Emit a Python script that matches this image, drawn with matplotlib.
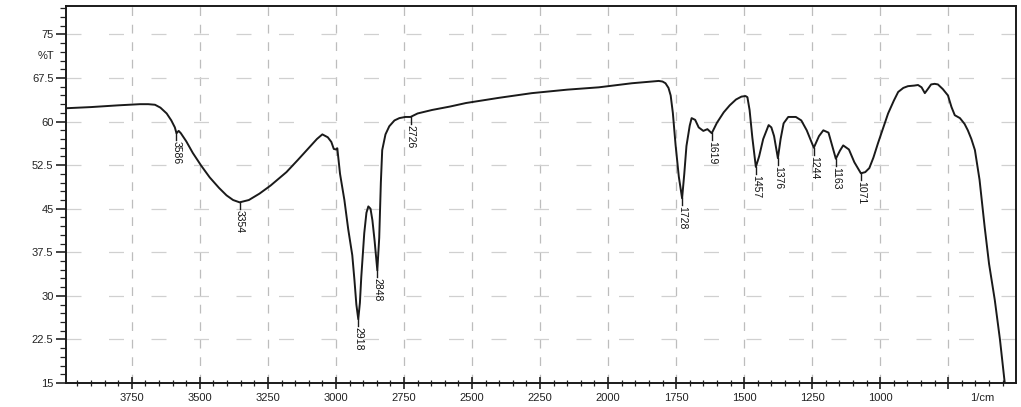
import numpy as np
import matplotlib.pyplot as plt
from matplotlib.ticker import MultipleLocator

# FTIR spectrum (wavenumber in 1/cm, transmittance in %T)
wavenumber = [3992, 3900, 3800, 3720, 3690, 3665, 3645, 3622, 3605, 3592, 3586, 3578,
              3570, 3550, 3526, 3495, 3464, 3430, 3402, 3378, 3354, 3320, 3281,
              3240, 3182, 3140, 3097, 3070, 3050, 3030, 3017, 3008, 3000, 2995,
              2985, 2969, 2955, 2948, 2940, 2932, 2925, 2918, 2912, 2907, 2896,
              2888, 2881, 2873, 2866, 2858, 2848, 2841, 2835, 2830, 2818, 2804,
              2785, 2767, 2745, 2726, 2700, 2647, 2580, 2522, 2400, 2280, 2150,
              2034, 1913, 1840, 1814, 1800, 1789, 1778, 1770, 1762, 1752, 1740,
              1728, 1720, 1712, 1700, 1693, 1680, 1667, 1650, 1635, 1619, 1600,
              1575, 1553, 1530, 1510, 1495, 1488, 1480, 1470, 1457, 1445, 1430,
              1410, 1400, 1390, 1376, 1366, 1355, 1338, 1310, 1290, 1270, 1244,
              1225, 1209, 1190, 1163, 1148, 1136, 1115, 1095, 1071, 1055, 1040,
              1025, 1008, 990, 971, 950, 934, 915, 898, 875, 861, 848, 836, 825,
              813, 800, 788, 770, 751, 738, 726, 707, 690, 678, 665, 652, 635,
              616, 600, 579, 560, 540]
transmittance = [62.3, 62.5, 62.8, 63.0, 63.0, 62.9, 62.4, 61.4, 60.2, 59.0, 58.0, 58.4,
                 58.0, 56.6, 54.6, 52.4, 50.4, 48.6, 47.3, 46.5, 46.1, 46.5, 47.6,
                 49.0, 51.3, 53.4, 55.6, 57.0, 57.8, 57.3, 56.5, 55.3, 55.2, 55.4,
                 51.0, 46.5, 41.5, 39.4, 37.0, 32.7, 28.5, 26.0, 28.8, 33.2, 40.8,
                 44.3, 45.4, 45.0, 43.0, 39.5, 34.4, 40.0, 49.5, 55.1, 57.8, 59.2,
                 60.2, 60.6, 60.8, 60.8, 61.4, 62.0, 62.6, 63.2, 64.1, 64.9, 65.5,
                 65.9, 66.6, 66.9, 67.0, 66.9, 66.6, 65.8, 64.5, 61.5, 56.0, 50.5,
                 46.8, 51.0, 55.8, 59.3, 60.6, 60.3, 59.0, 58.4, 58.7, 58.0, 59.8,
                 61.6, 62.8, 63.8, 64.3, 64.4, 64.2, 62.0, 57.3, 52.2, 54.0, 57.0,
                 59.4, 59.0, 57.5, 53.7, 57.0, 59.7, 60.8, 60.8, 60.2, 58.5, 55.5,
                 57.5, 58.5, 58.1, 53.6, 55.0, 55.9, 55.2, 53.0, 51.1, 51.3, 52.0,
                 53.8, 56.3, 58.8, 61.4, 63.6, 65.1, 65.8, 66.1, 66.2, 66.3, 65.9,
                 64.9, 65.6, 66.4, 66.5, 66.4, 65.6, 64.5, 62.5, 61.1, 60.6, 59.6,
                 58.5, 57.0, 55.1, 50.0, 41.8, 35.5, 29.3, 22.5, 14.0]

peak_wn = [3586, 3354, 2918, 2848, 2726, 1728, 1619, 1457, 1376, 1244, 1163, 1071]
peak_T = [58.0, 46.1, 26.0, 34.4, 60.8, 46.8, 58.0, 52.2, 53.7, 55.5, 53.6, 51.1]

x_major = [3750, 3500, 3250, 3000, 2750, 2500, 2250, 2000, 1750, 1500, 1250, 1000, 750]
x_labels = ['3750', '3500', '3250', '3000', '2750', '2500', '2250', '2000', '1750',
            '1500', '1250', '1000', '']
y_major = [15, 22.5, 30, 37.5, 45, 52.5, 60, 67.5, 75]
y_labels = ['15', '22.5', '30', '37.5', '45', '52.5', '60', '67.5', '75']

plt.rcParams['font.family'] = ['Liberation Sans', 'DejaVu Sans']

fig = plt.figure(figsize=(10.21, 4.07), dpi=100)
ax = fig.add_axes([66 / 1021, 24 / 407, 950 / 1021, 377 / 407])

# dashed grid like the printed chart paper
for xv in x_major:
    ax.axvline(xv, color='#bdbdbd', lw=0.9, dashes=(7, 7), zorder=0)
for yv in y_major[1:]:
    ax.axhline(yv, color='#d0d0d0', lw=0.9, dashes=(12, 22), zorder=0)

ax.plot(wavenumber, transmittance, color='#1a1a1a', lw=1.4, zorder=3,
        solid_joinstyle='round')

# peak annotations
for wn, t in zip(peak_wn, peak_T):
    ax.plot([wn, wn], [t, t - 1.2], color='#1a1a1a', lw=1.0, zorder=3)
    ax.text(wn, t - 1.4, str(wn), rotation=270, ha='center', va='top',
            fontsize=7.5, color='#111111', zorder=4)

ax.set_xlim(3992, 501)
ax.set_ylim(15, 79.9)

ax.set_xticks(x_major)
ax.set_xticklabels(x_labels)
ax.xaxis.set_minor_locator(MultipleLocator(50))
ax.set_yticks(y_major)
ax.set_yticklabels(y_labels)
ax.yaxis.set_minor_locator(MultipleLocator(1.5))

ax.tick_params(axis='x', which='major', direction='inout', length=8, width=1.2,
               labelsize=8, pad=3, colors='#222222')
ax.tick_params(axis='x', which='minor', direction='inout', length=4, width=0.9,
               colors='#222222')
ax.tick_params(axis='y', which='major', direction='out', length=7, width=1.2,
               labelsize=8, pad=2, colors='#222222')
ax.tick_params(axis='y', which='minor', direction='out', length=4, width=0.9,
               colors='#222222')

for sp in ax.spines.values():
    sp.set_linewidth(1.4)
    sp.set_color('#1a1a1a')

ax.text(-0.012, (71.25 - 15) / (79.9 - 15), '%T', transform=ax.transAxes,
        ha='right', va='center', fontsize=8, color='#222222')
ax.annotate('1/cm', xy=(625, 15), xytext=(0, -7), textcoords='offset points',
            ha='center', va='top', fontsize=8, color='#222222')

fig.savefig('out.png', dpi=100, facecolor='white')
